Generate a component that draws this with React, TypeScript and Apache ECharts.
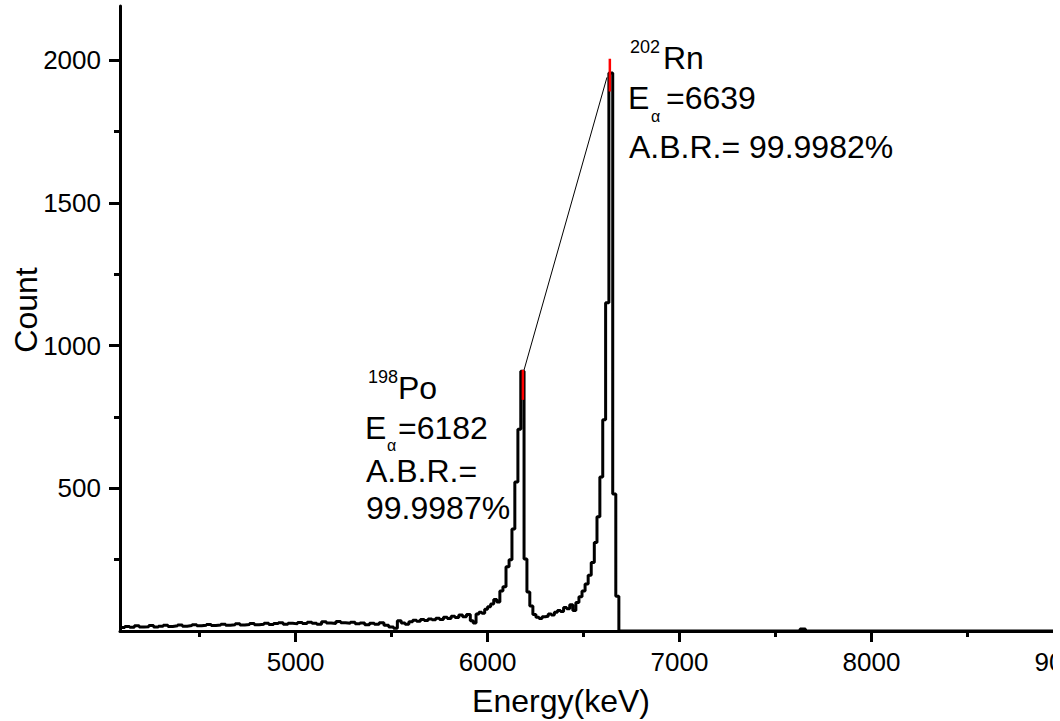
import React, { useEffect, useRef } from "react";
import * as echarts from "echarts";

// Spectrum: left edges of energy bins (keV) and counts
const energies = [
  4085, 4110, 4135, 4160, 4185, 4210, 4235, 4260, 4285, 4310, 4335, 4360, 4385, 4410, 4435, 4460,
  4485, 4510, 4535, 4560, 4585, 4610, 4635, 4660, 4685, 4710, 4735, 4760, 4785, 4810, 4835, 4860,
  4885, 4910, 4935, 4960, 4985, 5010, 5035, 5060, 5085, 5110, 5135, 5160, 5185, 5210, 5235, 5260,
  5285, 5310, 5335, 5360, 5385, 5410, 5435, 5460, 5485, 5510, 5530, 5550, 5570, 5590, 5610, 5630,
  5650, 5670, 5690, 5710, 5730, 5750, 5770, 5790, 5810, 5830, 5850, 5870, 5890, 5910, 5925, 5940,
  5955, 5970, 5985, 6000, 6016, 6032, 6048, 6064, 6080, 6096, 6112, 6127, 6142, 6158, 6173, 6190,
  6205, 6220, 6236, 6252, 6268, 6284, 6300, 6316, 6332, 6348, 6364, 6380, 6396, 6412, 6428, 6444,
  6460, 6476, 6492, 6508, 6524, 6540, 6556, 6570, 6585, 6600, 6615, 6632, 6652, 6668, 6684, 7628,
  7656, 9300,
];
const counts = [
  12, 16, 13, 18, 14, 15, 19, 14, 17, 20, 16, 18, 21, 17, 19, 22,
  18, 20, 23, 19, 21, 24, 20, 22, 25, 21, 23, 26, 22, 24, 27, 23,
  26, 29, 24, 27, 25, 30, 26, 31, 27, 24, 32, 28, 26, 33, 29, 27,
  31, 25, 28, 22, 27, 24, 29, 20, 14, 10, 36, 28, 24, 32, 38, 34,
  40, 37, 42, 39, 45, 40, 48, 44, 52, 47, 56, 50, 58, 36, 28, 60,
  66, 62, 76, 85, 95, 110, 102, 140, 155, 225, 250, 357, 522, 707, 910, 252,
  137, 88, 58, 48, 44, 50, 52, 60, 56, 66, 72, 68, 82, 78, 92, 72,
  100, 120, 140, 165, 195, 240, 310, 400, 540, 740, 1150, 1955, 480, 122, 0, 7,
  0, 0,
];

const xMajorTicks = [5000, 6000, 7000, 8000, 9000];
const xMinorTicks = [4500, 5500, 6500, 7500, 8500];
const yMajorTicks = [500, 1000, 1500, 2000];
const yMinorTicks = [250, 750, 1250, 1750];

// Peak markers (red) and the connecting arrow
const rnMarkEnergy = [6637, 6637];
const rnMarkCount = [2005, 1890];
const poMarkEnergy = [6184, 6184];
const poMarkCount = [915, 810];
const arrowFrom = [6622, 1940];
const arrowTo = [6186, 905];

const FONT = '"Liberation Sans", Arial, sans-serif';

export default function App() {
  const ref = useRef<HTMLDivElement>(null);
  useEffect(() => {
    if (!ref.current) return;
    const chart = echarts.init(ref.current, null, { renderer: "svg" });
    const spectrum = energies.map((e, i) => [e, counts[i]]);
    const axisLineStyle = { color: "#000", width: 3 };
    const fmt = (v: number) => String(v);
    const t = (text: string, x: number, y: number, size: number) => ({
      type: "text",
      x,
      y,
      style: { text, fontSize: size, fontFamily: FONT, fill: "#000", verticalAlign: "middle", align: "left" },
    });
    chart.setOption({
      animation: false,
      backgroundColor: "#fff",
      grid: { left: 120, top: 6, right: 9, bottom: 90, containLabel: false, outerBoundsMode: "none" },
      xAxis: [
        {
          type: "value",
          min: 4085,
          max: 9300,
          position: "bottom",
          name: "Energy(keV)",
          nameLocation: "middle",
          nameGap: 54,
          nameMoveOverlap: false,
          nameTextStyle: { fontSize: 32, fontFamily: FONT, color: "#000", padding: [0, 119, 0, 0] },
          axisLine: { onZero: false, lineStyle: axisLineStyle },
          axisTick: { customValues: xMajorTicks, length: 11, lineStyle: axisLineStyle },
          axisLabel: { customValues: xMajorTicks, formatter: fmt, fontSize: 26, fontFamily: FONT, color: "#000", margin: 18 },
          splitLine: { show: false },
        },
        {
          type: "value",
          min: 4085,
          max: 9300,
          position: "bottom",
          axisLine: { show: false, onZero: false },
          axisTick: { customValues: xMinorTicks, length: 6, lineStyle: axisLineStyle },
          axisLabel: { show: false },
          splitLine: { show: false },
        },
      ],
      yAxis: [
        {
          type: "value",
          min: 0,
          max: 2190,
          position: "left",
          name: "Count",
          nameLocation: "middle",
          nameGap: 78,
          nameMoveOverlap: false,
          nameTextStyle: { fontSize: 32, fontFamily: FONT, color: "#000", padding: [0, 0, 0, 17] },
          axisLine: { show: true, onZero: false, lineStyle: axisLineStyle },
          axisTick: { show: true, customValues: yMajorTicks, length: 11, lineStyle: axisLineStyle },
          axisLabel: { customValues: yMajorTicks, formatter: fmt, fontSize: 26, fontFamily: FONT, color: "#000", margin: 19 },
          splitLine: { show: false },
        },
        {
          type: "value",
          min: 0,
          max: 2190,
          position: "left",
          axisLine: { show: false, onZero: false },
          axisTick: { show: true, customValues: yMinorTicks, length: 6, lineStyle: axisLineStyle },
          axisLabel: { show: false },
          splitLine: { show: false },
        },
      ],
      series: [
        {
          type: "line",
          step: "end",
          data: spectrum,
          showSymbol: false,
          silent: true,
          lineStyle: { color: "#000", width: 3 },
          markLine: {
            silent: true,
            symbol: ["none", "arrow"],
            symbolSize: [0, 11],
            lineStyle: { color: "#000", width: 1, type: "solid" },
            label: { show: false },
            data: [[{ coord: arrowFrom }, { coord: arrowTo }]],
          },
          z: 2,
        },
        {
          type: "line",
          data: rnMarkEnergy.map((e, i) => [e, rnMarkCount[i]]),
          showSymbol: false,
          silent: true,
          lineStyle: { color: "#ff0000", width: 2.5 },
          z: 5,
        },
        {
          type: "line",
          data: poMarkEnergy.map((e, i) => [e, poMarkCount[i]]),
          showSymbol: false,
          silent: true,
          lineStyle: { color: "#ff0000", width: 2.5 },
          z: 5,
        },
      ],
      graphic: [
        t("202", 630, 47, 18),
        t("Rn", 663, 58, 32),
        t("E", 628, 98, 32),
        t("α", 651, 116, 16),
        t("=6639", 666, 98, 32),
        t("A.B.R.= 99.9982%", 629, 147, 32),
        t("198", 368, 377, 18),
        t("Po", 398, 388, 32),
        t("E", 365, 428, 32),
        t("α", 387, 445, 16),
        t("=6182", 398, 428, 32),
        t("A.B.R.=", 366, 471, 32),
        t("99.9987%", 366, 508, 32),
      ],
    });
    return () => chart.dispose();
  }, []);
  return (
    <div
      style={{ position: "absolute", left: 0, top: 0, width: 1053, height: 721, overflow: "hidden", background: "#fff" }}
    >
      <div ref={ref} style={{ width: 1130, height: 721 }} />
    </div>
  );
}
